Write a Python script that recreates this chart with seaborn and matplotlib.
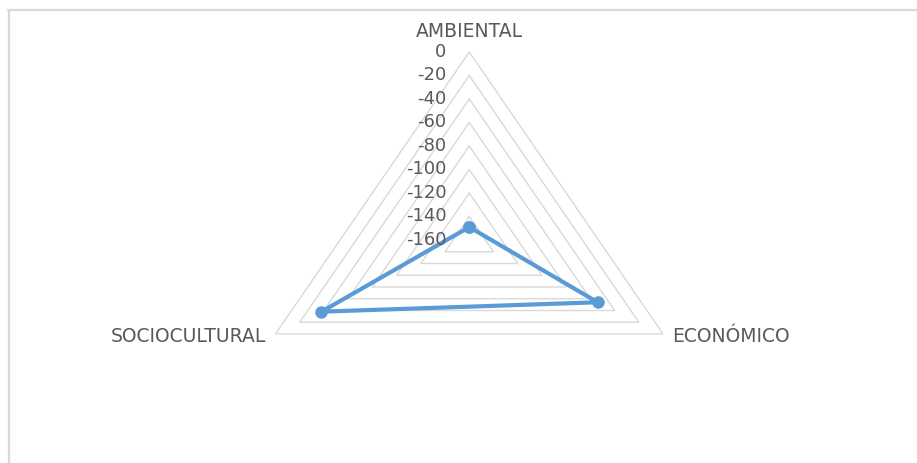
import numpy as np
import pandas as pd
import seaborn as sns
import matplotlib.pyplot as plt
from matplotlib.lines import Line2D

# datos del radar
categorias = ['AMBIENTAL', 'ECONÓMICO', 'SOCIOCULTURAL']
valores = [-149, -54, -38]
niveles = [0, -20, -40, -60, -80, -100, -120, -140, -160]

AZUL = '#5B9BD5'
GRIS_TXT = '#595959'
GRIS_GRID = '#D9D9D9'


def main():
    sns.set_theme(style='white')
    plt.rcParams['font.family'] = ['DejaVu Sans']

    fig = plt.figure(figsize=(9.17, 4.63), dpi=100)
    fig.patch.set_facecolor('white')

    # marco gris del grafico
    fig.add_artist(Line2D([8 / 917, 1], [0.978, 0.978], transform=fig.transFigure,
                          color=GRIS_GRID, lw=1.6))
    fig.add_artist(Line2D([9 / 917, 9 / 917], [0, 0.978], transform=fig.transFigure,
                          color=GRIS_GRID, lw=1.6))

    ax = fig.add_axes([0.2677, 0.0756, 0.4881, 0.8121], projection='polar')
    ax.set_aspect('auto')
    ax.set_theta_offset(np.pi / 2)
    ax.set_theta_direction(-1)
    ax.set_ylim(-160, 0)

    angulos = np.linspace(0, 2 * np.pi, len(categorias), endpoint=False)
    cerrado = np.append(angulos, 2 * np.pi)

    # rejilla triangular
    for nivel in niveles[:-1]:
        ax.plot(cerrado, [nivel] * len(cerrado), color=GRIS_GRID, lw=1.0, zorder=1)

    df = pd.DataFrame({'theta': cerrado, 'valor': valores + valores[:1]})
    sns.lineplot(data=df, x='theta', y='valor', sort=False, ax=ax, color=AZUL,
                 lw=3.0, marker='o', markersize=9, markeredgewidth=0, zorder=3)

    ax.grid(False)
    ax.spines['polar'].set_visible(False)
    ax.set_xticks([])
    ax.set_yticks([])
    ax.set_xlabel('')
    ax.set_ylabel('')
    ax.patch.set_alpha(0)

    # etiquetas del eje radial
    for nivel in niveles:
        ax.annotate(str(nivel), xy=(0, nivel), xytext=(-16.4, 0), textcoords='offset points',
                    ha='right', va='center', fontsize=13, color=GRIS_TXT, annotation_clip=False)

    # etiquetas de categorias
    offs = [(0, 15, 'center', 'center'), (6.5, -2, 'left', 'center'), (-7, -2, 'right', 'center')]
    for ang, cat, (dx, dy, ha, va) in zip(angulos, categorias, offs):
        ax.annotate(cat, xy=(ang, 0), xytext=(dx, dy), textcoords='offset points',
                    ha=ha, va=va, fontsize=13.5, color=GRIS_TXT, annotation_clip=False)

    fig.savefig('out.png', dpi=100, facecolor='white')


if __name__ == '__main__':
    main()
